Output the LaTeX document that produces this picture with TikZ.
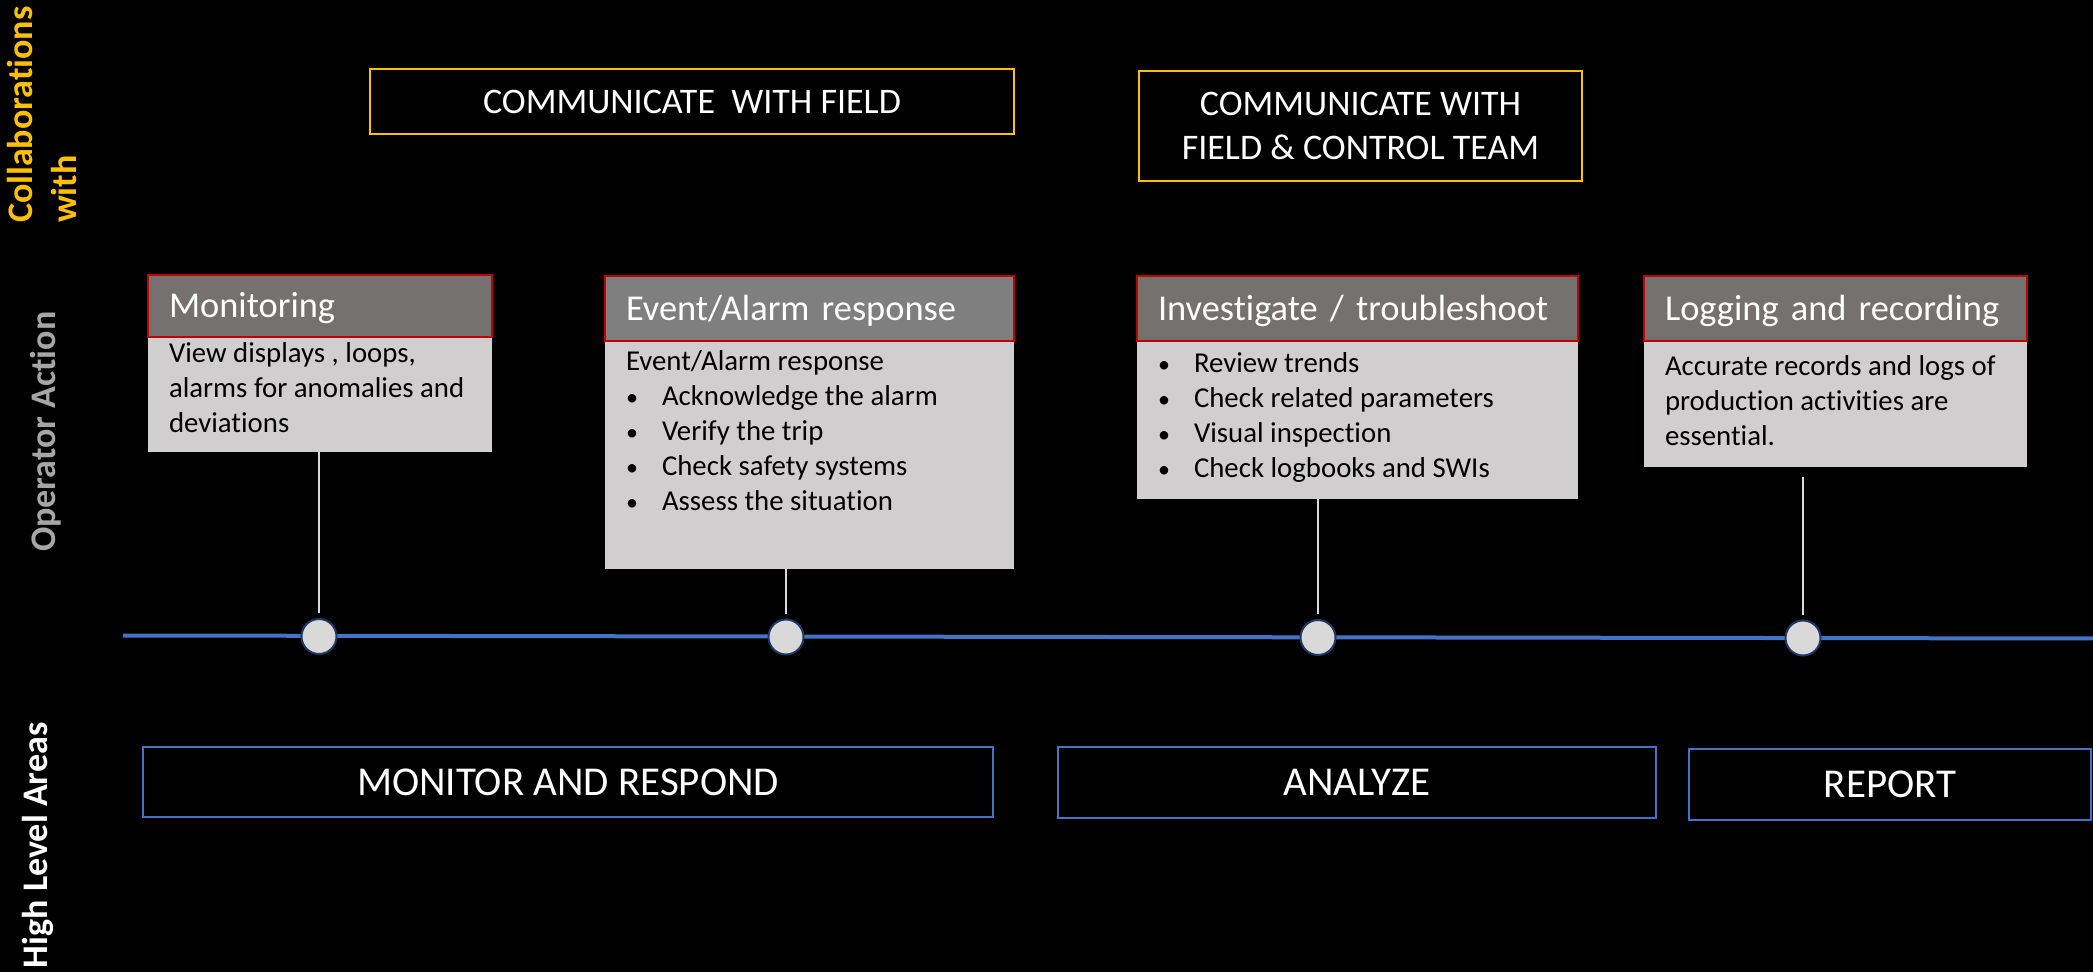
\documentclass[tikz,border=0pt]{standalone}
\usepackage{fontspec}
\setmainfont{Carlito}[Ligatures={NoCommon}]
\definecolor{gold}{HTML}{FFC000}
\definecolor{hdrred}{HTML}{C00000}
\definecolor{hdrgray}{HTML}{767171}
\definecolor{hdrgraytwo}{HTML}{7F7F7F}
\definecolor{bodygray}{HTML}{D0CECE}
\definecolor{areablue}{HTML}{4472C4}
\definecolor{dotgray}{HTML}{D9D9D9}
\definecolor{dotnavy}{HTML}{203864}
\definecolor{stemgray}{HTML}{D9D9D9}
\definecolor{opgray}{HTML}{A6A6A6}
\newcommand{\myblt}[1]{\makebox[18pt][l]{\fontsize{12}{12}\selectfont\textbullet}#1}
\begin{document}
\begin{tikzpicture}[x=0.5pt,y=-0.5pt,
  every node/.style={outer sep=0pt},
  collab/.style={draw=gold, line width=1.2pt, text=white, font=\fontsize{18}{22}\selectfont, align=center, inner sep=0pt},
  hdr/.style={draw=hdrred, line width=1pt, fill=hdrgray, text=white, font=\fontsize{18.2}{22}\selectfont, anchor=north west, inner xsep=10.5pt, inner ysep=0pt, align=left, text depth=0.08em},
  bodybox/.style={fill=bodygray, anchor=north west, inner sep=0pt},
  btxt/.style={anchor=north west, inner xsep=10.5pt, inner ysep=0pt, font=\fontsize{14.4}{17.5}\selectfont, align=left, text=black},
  area/.style={draw=areablue, line width=1pt, text=white, font=\fontsize{20.5}{24}\selectfont, inner sep=0pt},
  dot/.style={circle, fill=dotgray, draw=dotnavy, line width=1pt, minimum size=17.5pt, inner sep=0pt},
  stem/.style={draw=stemgray, line width=0.6pt, shorten >=3pt},
  timeline/.style={draw=areablue, line width=2pt},
  side/.style={rotate=90, anchor=north west, inner sep=0pt, font=\bfseries\fontsize{18}{22}\selectfont, align=left}
]
\fill[black] (0,0) rectangle (2093,972);
\useasboundingbox (0,0) rectangle (2093,972);

% side labels
\node[side, text=gold] (lcollab) at (7,223) {Collaborations\\with};
\node[side, text=opgray] (lop) at (30,552) {Operator Action};
\node[side, text=white] (lhigh) at (22,968) {High Level Areas};

% collaboration boxes
\node[collab, minimum width=322pt, minimum height=32.5pt] (cf1) at (692,101.5) {COMMUNICATE\ \ WITH FIELD};
\node[collab, minimum width=221.5pt, minimum height=55pt] (cf2) at (1360.5,126) {COMMUNICATE WITH\\FIELD \& CONTROL TEAM};

% headers
\node[hdr, text width=151pt, minimum height=31pt] (h1) at (148,275) {Monitoring};
\node[hdr, fill=hdrgraytwo, text width=183.5pt, minimum height=32.5pt] (h2) at (605,276) {Event/Alarm response};
\node[hdr, text width=199.5pt, minimum height=32.5pt] (h3) at (1137,276) {Investigate / troubleshoot};
\node[hdr, text width=170.5pt, minimum height=32.5pt] (h4) at (1644,276) {Logging and recording};

% bodies
\node[bodybox, minimum width=172pt, minimum height=57pt] (b1) at (148,338) {};
\node[bodybox, minimum width=204.5pt, minimum height=113.5pt] (b2) at (605,342) {};
\node[bodybox, minimum width=220.5pt, minimum height=78.5pt] (b3) at (1137,342) {};
\node[bodybox, minimum width=191.5pt, minimum height=62.5pt] (b4) at (1644,342) {};

\node[btxt, yshift=-2.5pt] (t1) at (b1.north west) {View displays , loops,\\alarms for anomalies and\\deviations};
\node[btxt, yshift=-4.5pt] (t2) at (b2.north west) {Event/Alarm response\\\myblt{Acknowledge the alarm}\\\myblt{Verify the trip}\\\myblt{Check safety systems}\\\myblt{Assess the situation}};
\node[btxt, yshift=-5.5pt] (t3) at (b3.north west) {\myblt{Review trends}\\\myblt{Check related parameters}\\\myblt{Visual inspection}\\\myblt{Check logbooks and SWIs}};
\node[btxt, yshift=-7pt] (t4) at (b4.north west) {Accurate records and logs of\\production activities are\\essential.};

% timeline
\coordinate (tl0) at (123,635.5);
\coordinate (tl1) at (2093,638.5);
\draw[timeline] (tl0) -- (tl1);
\node[dot] (c1) at (319,636.5) {};
\node[dot] (c2) at (786,637) {};
\node[dot] (c3) at (1318,637.5) {};
\node[dot] (c4) at (1803,638) {};

\draw[stem] (c1 |- b1.south) -- (c1.north);
\draw[stem] (c2 |- b2.south) -- (c2.north);
\draw[stem] (c3 |- b3.south) -- (c3.north);
\draw[stem, shorten <=5pt] (c4 |- b4.south) -- (c4.north);

% high level areas
\node[area, minimum width=425pt, minimum height=35pt] (a1) at (568,782) {MONITOR AND RESPOND};
\node[area, minimum width=299pt, minimum height=35.5pt] (a2) at (1357,782.5) {ANALYZE};
\node[area, minimum width=201pt, minimum height=35.5pt] (a3) at (1890,784.5) {REPORT};
\end{tikzpicture}
\end{document}
